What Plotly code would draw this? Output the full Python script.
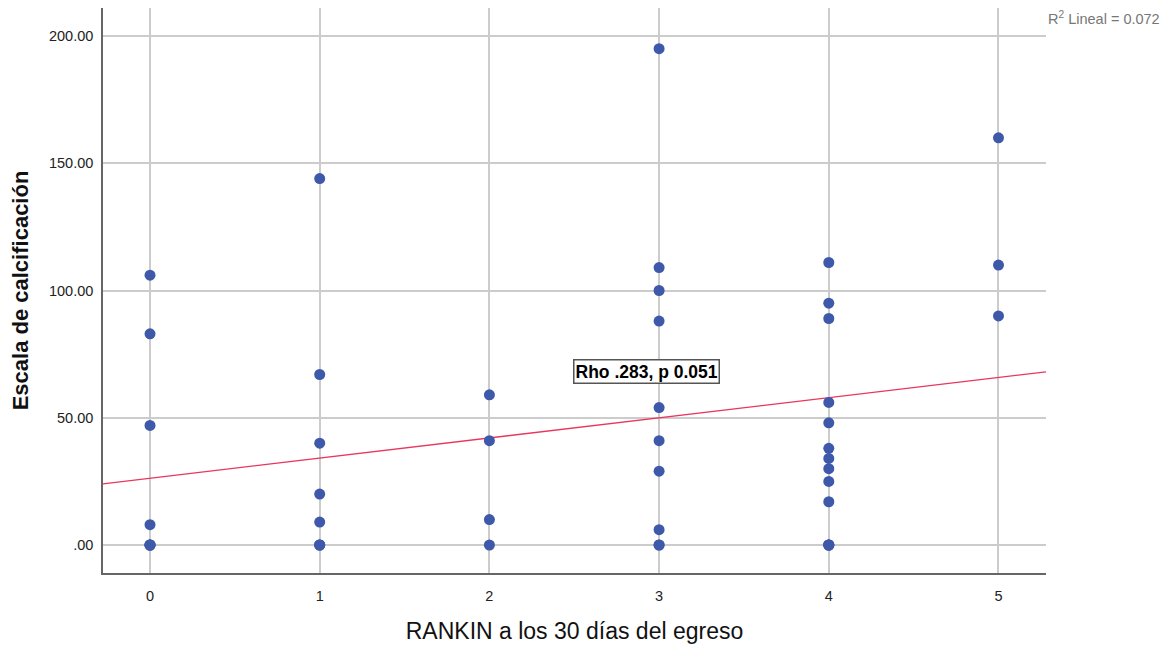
import numpy as np
import plotly.graph_objects as go

# RANKIN score at 30 days (x) and calcification scale (y)
rankin = [0, 0, 0, 0, 0, 0, 0, 0,
          1, 1, 1, 1, 1, 1, 1, 1,
          2, 2, 2, 2,
          3, 3, 3, 3, 3, 3, 3, 3, 3, 3,
          4, 4, 4, 4, 4, 4, 4, 4, 4, 4, 4, 4, 4, 4,
          5, 5, 5]
calcificacion = [106, 83, 47, 8, 0, 0, 0, 0,
                 144, 67, 40, 20, 9, 0, 0, 0,
                 59, 41, 10, 0,
                 195, 109, 100, 88, 54, 41, 29, 6, 0, 0,
                 111, 95, 89, 56, 48, 38, 34, 30, 25, 17, 0, 0, 0, 0,
                 160, 110, 90]

x_ticks = [0, 1, 2, 3, 4, 5]
y_ticks = [0, 50, 100, 150, 200]
y_ticklabels = [".00", "50.00", "100.00", "150.00", "200.00"]
annotation_text = "Rho .283, p 0.051"
r2_text = "R<sup>2</sup> Lineal = 0.072"

x = np.array(rankin, dtype=float)
y = np.array(calcificacion, dtype=float)
slope, intercept = np.polyfit(x, y, 1)
x_range = [-0.277, 5.28]
y_range = [-11, 211]
xl = np.array(x_range)
yl = intercept + slope * xl

fig = go.Figure()
fig.add_trace(go.Scatter(
    x=xl, y=yl, mode="lines",
    line=dict(color="#E8365D", width=1.3),
    hoverinfo="skip", showlegend=False))
fig.add_trace(go.Scatter(
    x=rankin, y=calcificacion, mode="markers",
    marker=dict(color="#3E58AA", size=11, line=dict(width=0)),
    showlegend=False))

fig.add_annotation(
    x=2.925, y=68, xref="x", yref="y", text="<b>" + annotation_text + "</b>",
    showarrow=False, font=dict(family="Liberation Sans, Arial", size=17.5, color="black"),
    bgcolor="white", bordercolor="#555555", borderwidth=1.5, borderpad=1)
fig.add_annotation(
    x=1.0, y=1 - 10 / 565, xref="paper", yref="paper", text=r2_text,
    xanchor="left", yanchor="middle", xshift=0, showarrow=False,
    font=dict(family="Liberation Sans, Arial", size=14.5, color="#777777"))

fig.update_layout(
    width=1176, height=649,
    margin=dict(l=95, r=138, t=0, b=84),
    paper_bgcolor="white", plot_bgcolor="white",
    font=dict(family="Liberation Sans, Arial", color="#222222"),
    xaxis=dict(
        range=x_range, tickvals=x_ticks, ticktext=[str(t) for t in x_ticks],
        showgrid=True, gridcolor="#CCCCCC", gridwidth=1.5,
        zeroline=False, showline=True, linecolor="#666666", linewidth=1.5,
        ticks="", ticklabelstandoff=9, tickfont=dict(size=14.5, color="#222222"),
        title=dict(text="RANKIN a los 30 días del egreso",
                   font=dict(size=23, color="#111111"), standoff=20)),
    yaxis=dict(
        range=y_range, tickvals=y_ticks, ticktext=y_ticklabels,
        showgrid=True, gridcolor="#CCCCCC", gridwidth=1.5,
        zeroline=False, showline=True, linecolor="#666666", linewidth=1.5,
        ticks="", ticklabelstandoff=5, tickfont=dict(size=14.5, color="#222222"),
        title=dict(text="<b>Escala de calcificación</b>",
                   font=dict(size=22, color="#111111"), standoff=18)),
)

fig.write_html("out.html")
